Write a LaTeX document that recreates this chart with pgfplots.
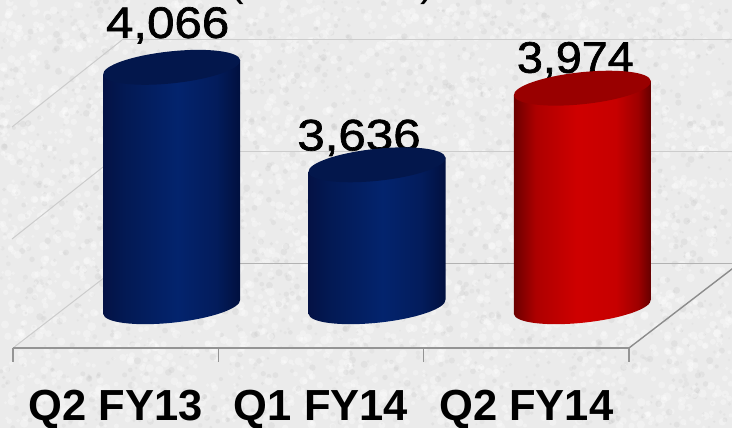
\documentclass[border=0pt]{standalone}
\usepackage{pgfplots}
\usepackage{fontspec}
\pgfplotsset{compat=1.18}
\setmainfont{Liberation Sans}
\newfontfamily\valfont[FakeStretch=1.12,FakeBold=1.5]{Liberation Sans}
\newfontfamily\valfontb[FakeStretch=1.06,FakeBold=1.5]{Liberation Sans}
\pgfdeclarehorizontalshading{cylblue}{100bp}{rgb(0bp)=(0.016,0.07,0.27);rgb(25bp)=(0.016,0.07,0.27);rgb(33bp)=(0.01,0.10,0.33);rgb(52bp)=(0.01,0.14,0.43);rgb(66bp)=(0.01,0.11,0.36);rgb(75bp)=(0.005,0.06,0.24);rgb(100bp)=(0.005,0.06,0.24)}
\pgfdeclarehorizontalshading{cylred}{100bp}{rgb(0bp)=(0.42,0,0);rgb(25bp)=(0.42,0,0);rgb(33bp)=(0.68,0,0);rgb(48bp)=(0.81,0,0);rgb(62bp)=(0.78,0,0);rgb(70bp)=(0.62,0,0);rgb(75bp)=(0.38,0,0);rgb(100bp)=(0.38,0,0)}
\definecolor{topblue}{rgb}{0.01,0.09,0.30}
\definecolor{topred}{rgb}{0.60,0,0}
\newcommand{\defcyl}[3]{%
\pgfdeclareplotmark{#1}{%
  \pgftransformshift{\pgfpoint{56pt}{39pt}}%
  \pgfmathsetlengthmacro{\cylh}{(\rawy-3010)*0.2267pt}%
  \pgfpathmoveto{\pgfpoint{-68.5pt}{-7.2pt}}%
  \pgfpathlineto{\pgfpoint{-68.5pt}{-7.2pt-\cylh}}%
  \pgfpatharcaxes{180}{360}{\pgfpoint{68.5pt}{7.2pt}}{\pgfpoint{-1.67pt}{15.9pt}}%
  \pgfpathlineto{\pgfpoint{68.5pt}{7.2pt}}%
  \pgfpathclose
  \pgfshadepath{#2}{0}%
  \pgfusepath{discard}%
  \pgfpathellipse{\pgfpointorigin}{\pgfpoint{68.5pt}{7.2pt}}{\pgfpoint{-1.67pt}{15.9pt}}%
  \pgfsetfillcolor{#3}%
  \pgfusepath{fill}%
}}
\defcyl{cylb}{cylblue}{topblue}
\defcyl{cylr}{cylred}{topred}
\begin{document}
\begin{tikzpicture}[x=1pt,y=1pt]
\clip (0,0) rectangle (732,428);
\fill[black!8] (0,0) rectangle (732,428);
\pgfmathsetseed{12}
\foreach \i in {1,...,5000}{%
  \pgfmathsetmacro\xx{rnd*732}%
  \pgfmathsetmacro\yy{rnd*428}%
  \pgfmathsetmacro\rr{1.5+rnd*3}%
  \pgfmathtruncatemacro\kk{mod(\i,5)}%
  \ifnum\kk<3
    \fill[white,opacity=.3] (\xx,\yy) circle[radius=\rr];
  \else\ifnum\kk=3
    \fill[black!30,opacity=.16] (\xx,\yy) circle[radius=\rr*.8];
  \else
    \fill[black!24,opacity=.16] (\xx,\yy) circle[radius=\rr*.6];
  \fi\fi
}
% back wall, floor and side (pixel coordinates)
\begin{axis}[at={(0,0)},anchor=south west,scale only axis,width=732pt,height=428pt,
  xmin=0,xmax=732,ymin=0,ymax=428,y dir=reverse,hide axis,clip=false]
\addplot[black!20,line width=1pt] coordinates {(122,40)(732,40)};
\addplot[black!20,line width=1pt] coordinates {(122,152)(732,152)};
\addplot[black!30,line width=1pt] coordinates {(122,264)(732,264)};
\addplot[black!20,line width=1pt] coordinates {(12,127)(122,40)};
\addplot[black!20,line width=1pt] coordinates {(12,239)(122,152)};
\addplot[black!20,line width=1pt] coordinates {(13,348)(122,264)};
\addplot[black!45,line width=1.4pt] coordinates {(629,348)(745,259)};
\end{axis}
\begin{axis}[at={(13pt,80pt)},anchor=south west,scale only axis,width=616pt,height=348pt,
  xmin=-0.5,xmax=2.5,ymin=3000,ymax=4535,
  clip=false,
  axis y line=none,axis x line*=bottom,
  axis line style={black!42,line width=1.5pt,-},
  xtick={0,1,2},xticklabels={Q2 FY13,Q1 FY14,Q2 FY14},
  minor xtick={-0.5,0.5,1.5,2.5},
  major tick length=0pt,
  minor tick length=14pt,
  every tick/.style={black!42,line width=1.5pt},
  tick align=outside,
  xticklabel style={font=\fontsize{43.5}{44}\selectfont\bfseries,black,yshift=-73pt,anchor=base,inner sep=0pt},
  visualization depends on={rawy \as \rawy},
]
\addplot[scatter,only marks,mark=cylb,scatter/use mapped color={draw=none,fill=none}] coordinates {(0,4066)(1,3636)};
\addplot[scatter,only marks,mark=cylr,scatter/use mapped color={draw=none,fill=none}] coordinates {(2,3974)};
\node[font=\fontsize{44}{44}\valfont,inner sep=0pt] at (axis cs:0,4066) [xshift=52pt,yshift=81pt] {4,066};
\node[font=\fontsize{44}{44}\valfont,inner sep=0pt] at (axis cs:1,3636) [xshift=38pt,yshift=66pt] {3,636};
\node[font=\fontsize{44}{44}\valfontb,inner sep=0pt] at (axis cs:2,3974) [xshift=49pt,yshift=67pt] {3,974};
\end{axis}
\node[anchor=base,font=\fontsize{44}{44}\selectfont,inner sep=0pt] at (237,432) {(};
\node[anchor=base,font=\fontsize{44}{44}\selectfont,inner sep=0pt] at (428,432) {)};
\end{tikzpicture}
\end{document}
